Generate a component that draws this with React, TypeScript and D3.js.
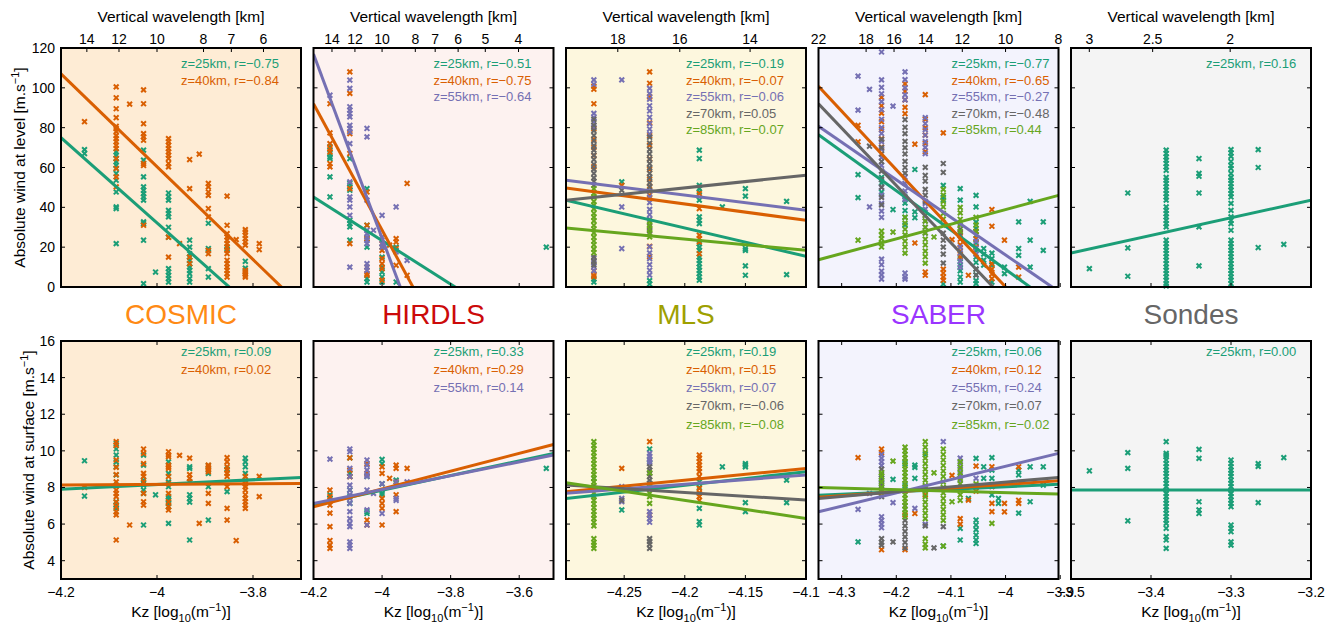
import React from 'react';
import * as d3 from 'd3';

type Group = [number, number[]]; // [column index, values]

// ---------------- shared data ----------------
const ALTITUDES = [25, 40, 55, 70, 85];
const SERIES_COLORS = ['#1b9e77', '#d95f02', '#7570b3', '#666666', '#66a61e'];
const INSTRUMENTS = ['COSMIC', 'HIRDLS', 'MLS', 'SABER', 'Sondes'];
const TITLE_COLORS = ['#ff8a14', '#cc0a0a', '#9ea000', '#9a35ff', '#666666'];
const PANEL_BG = ['#feecd5', '#fdf2f0', '#fdf7de', '#f3f3fd', '#f4f4f4'];

const KZ_DOMAINS: [number, number][] = [[-4.2, -3.7], [-4.2, -3.5], [-4.298, -4.1], [-4.3424, -3.9031], [-3.5, -3.2]];
const KZ_TICKS = [[-4.2, -4, -3.8], [-4.2, -4, -3.8, -3.6], [-4.25, -4.2, -4.15, -4.1], [-4.3, -4.2, -4.1, -4, -3.9], [-3.5, -3.4, -3.3, -3.2]];
const WAVELENGTH_TICKS = [[14, 12, 10, 8, 7, 6], [14, 12, 10, 8, 7, 6, 5, 4], [18, 16, 14], [22, 18, 16, 14, 12, 10, 8], [3, 2.5, 2]];
const LEVEL_TICKS = [0, 20, 40, 60, 80, 100, 120];
const SURFACE_TICKS = [4, 6, 8, 10, 12, 14, 16];

// ---------------- COSMIC ----------------
const cosmicKz = [-4.151, -4.085, -4.057, -4.028, -4.003, -3.976, -3.953, -3.932, -3.912, -3.893, -3.854, -3.835, -3.816, -3.787];
const cosmicLevel25: Group[] = [[0, [67, 69]], [1, [67.8, 66.2, 64.5, 62.8, 61.1, 59.5, 57, 53.6, 47.7, 40.2, 39.4, 21.8]], [3, [68.7, 63.7, 55.3, 50.3, 48.6, 46.9, 45.2, 43.6, 32.7, 31.8, 23.5, 1.7]], [4, [7.5]], [5, [47.2, 45.2, 43.6, 38.5, 36.8, 35.2, 30, 25, 9.2, 7.5, 5.9, 4.2, 2.5]], [7, [23.5, 20, 16.7, 15, 13.4, 11.7, 10, 8.4, 6.7, 4.2, 2.5]], [9, [32, 19.3, 18.4, 9.2, 5]], [10, [20, 19]], [12, [12.9, 9.5]]];
const cosmicLevel40: Group[] = [[0, [83]], [1, [100.5, 95, 89.5, 85, 80.7, 79.6, 78, 76, 74.5, 72.9, 71.2, 69.5, 64.5, 59.5, 55.3, 50.3]], [2, [91.8]], [3, [99, 92, 82, 77, 75.4, 73.7, 62, 61, 31]], [5, [74.5, 72.9, 71.2, 69.5, 67.8, 66.2, 64.5, 62, 60.3, 25, 15]], [6, [21.8]], [7, [64, 49.4, 15, 11.7]], [8, [66.7]], [9, [52, 50.3, 47.7, 46, 39.4, 35.2, 18.4, 16.7]], [10, [45.6, 31, 26.8, 25.1, 23.5, 21.8, 20.1, 18.4, 16.8, 13.4, 11.7, 10, 8.4, 6.7, 5]], [11, [23.8]], [12, [28.8, 27.6, 26, 24.3, 22.6, 21, 8.4, 7.5, 6.7, 5.9, 5]], [13, [21.8, 18.8]]];
const cosmicSurface25: Group[] = [[0, [9.46, 7.53]], [1, [10.4, 10.1, 9.77, 9.4, 9.13, 8.68, 8.13, 7.22, 7.04, 6.86]], [3, [9.77, 9.22, 8.4, 8.13, 7.86, 7.68, 5.95]], [4, [7.6]], [5, [9.4, 8.77, 8.3, 8.04, 7.5, 7.4, 7.3, 7.13, 6.95, 6.04]], [7, [9.13, 9.04, 8.3, 7.6, 7.4, 7.2, 5.13]], [9, [9.2, 8.77, 8.04, 6.22]], [10, [9.0, 7.77]], [12, [9.6, 9.4, 9.13, 8.77]]];
const cosmicSurface40: Group[] = [[0, [8.0]], [1, [10.5, 10.3, 9.5, 9.1, 8.7, 8.3, 7.86, 7.68, 7.5, 7.2, 6.95, 6.67, 6.5, 5.13]], [2, [5.95]], [3, [10.1, 9.86, 9.3, 8.77, 8.6, 8.3, 7.68, 7.22, 7.04]], [5, [9.95, 9.77, 9.68, 9.22, 9.13, 9.04, 8.6, 8.2, 7.68, 7.22, 6.95, 6.77]], [6, [9.75]], [7, [9.6, 8.7, 8.5, 8.3]], [8, [6.04]], [9, [9.22, 9.13, 9.04, 8.95, 8.86, 7.68, 7.13]], [10, [9.63, 9.4, 9.13, 8.95, 8.77, 8.6, 8.04, 6.86, 6.22]], [11, [5.1]], [12, [8.6, 8.4, 8.2, 8.04, 7.86, 7.6, 7.4, 7.22, 7.04, 6.86]], [13, [8.6, 7.5]]];
const cosmicLevelFit = [[75, -32], [107, -9.5]];
const cosmicSurfaceFit = [[7.9, 8.55], [8.13, 8.22]];
const cosmicLevelR = [-0.75, -0.84];
const cosmicSurfaceR = [0.09, 0.02];

// ---------------- HIRDLS ----------------
const hirdlsKz = [-4.152, -4.094, -4.044, -4.025, -4.0, -3.978, -3.959, -3.927, -3.521];
const hirdlsLevel25: Group[] = [[0, [70.4, 67, 65.3, 64.5, 55.3, 45.2]], [1, [64.5, 52, 50.3, 48.6, 33.5, 31.8, 30.2, 23.5]], [2, [49.4, 31, 24.3, 20, 4.2, 2.5]], [4, [20, 15, 10, 7.5, 5, 2.5]], [6, [20, 2.5]], [8, [20]]];
const hirdlsLevel40: Group[] = [[0, [92, 77.4, 72, 69.5, 67.8, 62, 60.3]], [1, [108, 97.2, 77, 67, 49.4, 21.8]], [2, [47.7, 31, 24.3, 10, 6.7, 5.9]], [4, [21.8, 18.4, 14.2, 11.7, 9.2, 3.4]], [5, [21]], [6, [24.3, 22.6, 19.3, 10.9]], [7, [52, 5.9]]];
const hirdlsLevel55: Group[] = [[0, [96.3]], [1, [103.9, 99.7, 90.5, 88.8, 87.1, 85.4, 81.2, 79.6, 77.9, 72, 52.8, 45.2, 43.6, 40.2, 36, 10]], [2, [79.6, 75.4, 43.6, 28.5, 26.8, 25.1, 23.5, 21.8, 11.7, 10, 8.4]], [3, [28.5]], [4, [36, 25.1, 21.8, 20]], [6, [40.2, 17.6]], [7, [13.4]]];
const hirdlsSurface25: Group[] = [[0, [7.6, 7.4]], [1, [9.62, 8.77, 8.6, 7.86, 7.5, 7.13]], [2, [8.6, 6.68, 6.58]], [4, [9.53, 9.3, 8.2, 7.68, 7.6]], [6, [8.4]], [8, [9.04]]];
const hirdlsSurface40: Group[] = [[0, [7.86, 7.5, 7.04, 6.6, 5.86, 5.1, 4.85, 4.67]], [1, [9.62, 8.95, 8.59]], [2, [9.3, 8.77, 6.22, 5.95]], [4, [9.13, 8.77, 7.4, 7.13, 6.86, 5.95]], [5, [8.5]], [6, [9.22, 9.04, 8.3, 7.6, 6.68]], [7, [9.04]]];
const hirdlsSurface55: Group[] = [[0, [9.55]], [1, [10.1, 9.95, 9.04, 8.6, 8.13, 7.86, 7.6, 7.4, 7.13, 6.68, 6.3, 6.04, 5.86, 5.03, 4.85, 4.67]], [2, [9.5, 9.22, 8.95, 8.68, 8.6, 7.86, 6.77, 5.95]], [3, [7.68]], [4, [8.2, 6.58]], [6, [8.3, 7.4, 7.3]], [7, [8.3]]];
const hirdlsLevelFit = [[45.2, -31.4], [92, -130], [117, -206.7]];
const hirdlsSurfaceFit = [[7.04, 9.86], [6.95, 10.35], [7.13, 9.77]];
const hirdlsLevelR = [-0.51, -0.75, -0.64];
const hirdlsSurfaceR = [0.33, 0.29, 0.14];

// ---------------- MLS ----------------
const mlsKz = [-4.275, -4.252, -4.229, -4.188, -4.169, -4.150, -4.116];
const mlsLevel25: Group[] = [[0, [2.5, 4]], [1, [52.8]], [2, [1.5, 3.2]], [3, [68.7, 64.5, 51, 49.4, 47.7, 43.6, 35.2, 33.5, 31.8, 21.8, 20, 18.4, 15, 13.4, 11.7, 10, 8.4, 6.7, 5, 3.4]], [4, [40.2]], [5, [49.4, 45.6, 19.3, 18.4, 10.6, 5.9]], [6, [43, 6.2]]];
const mlsLevel40: Group[] = [[0, [100.8, 99.3, 92, 79.5, 74.2, 70.1, 66, 60.4, 8.1, 6, 5.2]], [1, [51]], [2, [108, 102.3, 95.5, 82.4, 76, 71.2, 64.3, 59, 54.1, 50.5, 46.2, 20.4, 15.3]], [3, [46.9, 39.4, 26, 24.3, 22.6, 16.7]]];
const mlsLevel55: Group[] = [[0, [104, 101.8, 87.2, 85.1, 83, 80.4, 14.5, 12.1, 10.3, 8.2]], [1, [104, 40.2, 19.3]], [2, [99.7, 97.1, 94.3, 91, 88.4, 85.2, 82, 79.3, 76.8, 48.2, 45.1, 42.4, 39, 36.3, 34, 20.2, 17.1, 14.3, 11.2, 8.4, 6]]];
const mlsLevel70: Group[] = [[0, [84.2, 81.3, 78.5, 76.1, 73.4, 71, 68.7, 66.2, 64, 61.6, 59.2, 57, 54.8, 53, 51.1, 15.2, 13, 11.1]], [1, [48.6]], [2, [75.2, 72.3, 69.1, 66.8, 64.2, 61.9, 59.8, 57.1, 55, 52.3, 50.1, 30.4, 28.2]]];
const mlsLevel85: Group[] = [[0, [49.3, 47.1, 45.2, 43, 41.1, 39.2, 37, 35.1, 33.2, 31, 29.1, 27.2, 25, 23.1, 21.2, 19, 17.2]], [2, [33, 31.2, 29.1, 27, 25.2]]];
const mlsSurface25: Group[] = [[0, [7.5, 8.5]], [1, [6.77]], [2, [10.1, 9.5]], [3, [8.3, 8.0, 6.86, 6.13, 5.95]], [4, [9.13]], [5, [9.3, 9.22, 9.13, 7.17, 6.68]], [6, [8.4, 7.17]]];
const mlsSurface40: Group[] = [[1, [9.04]], [2, [10.5, 6.5]], [3, [9.77, 9.6, 9.4, 9.22, 9.04, 8.86, 8.6, 7.95, 7.7, 7.5, 7.3]]];
const mlsSurface55: Group[] = [[1, [8.04, 7.4, 7.22]], [2, [9.86, 9.7, 9.55, 9.4, 9.31, 6.68, 6.5, 6.3, 6.1]]];
const mlsSurface70: Group[] = [[1, [7.3]], [2, [9.13, 8.95, 8.77, 8.6, 8.4, 8.22, 5.2, 5.05, 4.9, 4.67]]];
const mlsSurface85: Group[] = [[0, [10.5, 10.3, 10.1, 9.9, 9.7, 9.5, 9.3, 9.1, 8.9, 8.7, 8.5, 8.3, 8.1, 7.9, 7.7, 7.5, 7.3, 7.1, 6.9, 6.7, 6.5, 6.3, 6.1, 5.9, 5.2, 5.0, 4.85, 4.67]], [2, [8.8, 8.04, 7.68, 7.5, 7.13]]];
const mlsLevelFit = [[43.6, 15.4], [49.7, 33.5], [53.6, 38.5], [43.6, 56.1], [29.6, 18.4]];
const mlsSurfaceFit = [[7.4, 8.86], [7.77, 9.04], [7.68, 8.68], [8.13, 7.31], [8.26, 6.31]];
const mlsLevelR = [-0.19, -0.07, -0.06, 0.05, -0.07];
const mlsSurfaceR = [0.19, 0.15, 0.07, -0.06, -0.08];

// ---------------- SABER ----------------
const saberKz = [-4.270, -4.249, -4.227, -4.206, -4.184, -4.166, -4.147, -4.131, -4.114, -4.098, -4.083, -4.068, -4.054, -4.040, -4.025, -4.013, -4.002, -3.976, -3.955, -3.931];
const saberLevel25: Group[] = [[0, [56.4, 44.9]], [2, [55, 52.3, 47.6]], [3, [38.9]], [4, [45.2, 42.1, 38.4, 35, 31.2]], [5, [59, 37.7, 34.8]], [8, [51, 45, 43.6, 1.5]], [10, [49.4, 43.6, 14.2, 11, 8.1, 5, 2.5]], [12, [46, 40.2, 32.6, 29.3, 26, 22.1, 18.2, 15, 12.3, 9, 6.1, 3.2, 1.7]], [13, [19.3, 16.5, 13.5, 11]], [14, [17, 14.2, 11, 2.5]], [16, [10, 6.7]], [17, [32.7, 19.3, 15.9]], [18, [43, 23.5, 10]], [19, [32.7, 18.4]]];
const saberLevel40: Group[] = [[0, [81.2, 72.9]], [2, [95.2, 91, 87.3, 83, 79.1, 74.4, 70.2]], [4, [102, 98.3, 94, 90.2, 87]], [5, [71.7, 22.1]], [6, [96.6, 84.2, 80, 76.3, 72.1, 68, 7.5, 5.9]], [8, [77.4, 9, 7, 5, 3.4]], [9, [23.8]], [10, [27.1, 24, 21.2, 18, 15.1]], [11, [5.9]], [12, [28, 24.2, 20]], [14, [38.9, 30.5, 11.7, 9, 6.5, 4.2]], [16, [23.5]], [17, [10, 5]]];
const saberLevel55: Group[] = [[0, [105.9, 88.8]], [1, [99.2, 40.2]], [2, [118, 104, 100.2, 97, 93.1, 89, 84.2, 80, 77.1, 73, 69.2, 65, 61.1, 50, 46.2, 42, 38.1, 35, 14, 11.2, 8, 6.1, 4]], [3, [90.8]], [4, [108, 104.1, 100, 96.5, 94, 55.1, 52, 48.2, 44, 7, 5, 4]], [6, [85, 82.1, 79, 76.2, 73, 70.1, 67, 42, 39.1, 36, 33.2, 30, 27]], [10, [20, 17.1, 13, 10]], [12, [23, 19.5, 16.5]]];
const saberLevel70: Group[] = [[1, [70.7]], [2, [74.1, 70, 66.8, 63, 58.2, 54, 50.1, 45, 41.2]], [4, [84, 80.2, 77, 73.1, 70, 66.8, 63.1, 60, 57.2]], [6, [60.1, 56, 53.2, 49, 46.1, 43]], [8, [62, 57.5, 27, 23.5, 20, 16.5, 12]], [10, [32, 29.1, 26]], [12, [9, 6]]];
const saberLevel85: Group[] = [[0, [23.5]], [2, [28.1, 26, 24.2, 22, 20.1]], [3, [27.6]], [4, [35, 32.1, 29, 26.2, 23, 20.1, 17]], [6, [36, 33.1, 30, 27.2, 24, 21.1, 18, 15.2, 12]], [7, [25.1]], [8, [49, 46.1, 43, 40.2, 37, 34.1, 31]], [10, [40, 37.2, 34, 31.1, 28]], [12, [35, 31.2, 28]]];
const saberSurface25: Group[] = [[0, [5.03]], [2, [8.5, 8.2]], [3, [8.44]], [4, [9.3, 8.1]], [5, [9.22, 9.1, 8.5]], [6, [9.8, 8.0]], [8, [4.8]], [10, [5.77, 5.13]], [11, [7.4]], [12, [9.59, 6.22, 5.95, 5.7, 5.4, 5.13, 4.94]], [13, [9.13, 8.5]], [14, [9.63, 8.95, 8.5, 7.6]], [15, [7.4, 7.13]], [17, [8.95, 8.68, 6.6]], [18, [9.13, 7.22]], [19, [9.13, 8.13]]];
const saberSurface40: Group[] = [[0, [9.63]], [2, [10.1, 9.9, 4.6]], [4, [4.6, 6.5]], [5, [6.58]], [6, [7.6]], [9, [8.66]], [10, [6.3, 6.0]], [11, [7.31]], [12, [9.17, 7.8]], [14, [9.13, 8.04, 7.13, 6.68]], [16, [7.13, 6.67]], [17, [9.13, 7.3, 7.13]]];
const saberSurface55: Group[] = [[0, [6.8]], [1, [7.68]], [2, [9.8, 9.6, 9.4, 9.2, 6.4, 6.2, 6.0, 5.8]], [3, [7.17]], [4, [7.0]], [5, [6.86]], [6, [6.0]], [8, [10.5]], [10, [9.6, 9.3, 9.0, 8.7, 8.4]], [12, [8.5]]];
const saberSurface70: Group[] = [[2, [9.0, 8.7, 8.4, 8.1, 7.8, 7.5, 5.2, 5.0, 4.85]], [3, [5.03]], [4, [6.2, 5.9, 5.6, 5.3, 5.0, 4.7]], [6, [5.9]], [7, [4.7]], [8, [5.86]]];
const saberSurface85: Group[] = [[2, [8.8, 8.6, 8.3, 8.0, 7.7]], [3, [9.44]], [4, [10.2, 10.0, 9.8, 9.6, 9.4, 9.2, 9.0, 8.8, 8.6, 8.4, 8.2, 8.0, 7.8, 7.6, 7.4, 7.2, 7.0, 6.8, 6.6, 6.4]], [6, [10.5, 10.2, 9.9, 9.6, 9.3, 9.0, 8.7, 8.4, 8.1, 7.8, 7.5, 7.2, 6.9, 6.6, 6.3, 5.2, 4.9, 4.7]], [7, [8.8]], [8, [10.1, 9.8, 9.5, 9.2, 8.9, 8.6, 8.3, 8.0, 7.7, 7.4, 7.1, 6.8, 6.5, 6.2, 4.8]], [9, [7.22]], [10, [9.4, 9.1, 8.8, 8.5, 8.2, 7.9, 7.6, 7.3]], [12, [8.2]], [14, [6.04]]];
const saberLevelFit = [[76.5, -10.3], [100.8, -28.5], [80.7, -2.2], [92, -34.5], [13.7, 46]];
const saberSurfaceFit = [[7.58, 8.17], [7.46, 8.37], [6.67, 9.86], [7.4, 8.55], [8.0, 7.64]];
const saberLevelR = [-0.77, -0.65, -0.27, -0.48, 0.44];
const saberSurfaceR = [0.06, 0.12, 0.24, 0.07, -0.02];

// ---------------- Sondes ----------------
const sondesKz = [-3.477, -3.429, -3.381, -3.340, -3.300, -3.266, -3.234];
const sondesLevel25: Group[] = [[0, [9.2]], [1, [47.2, 19.6, 5.4]], [2, [68.7, 67, 65.3, 63.7, 62, 60.3, 58.6, 55, 53.6, 52, 50.3, 48.6, 46.9, 45.2, 43.6, 40.2, 38.5, 36.8, 35.2, 33.5, 31.8, 30.2, 23.5, 21.8, 20.1, 18.4, 16.8, 15.1, 13.4, 11.7, 10, 8.4, 6.7, 5, 3.4, 1.7, 0.5]], [3, [64.5, 57, 55.6, 47.2, 30.2, 10.6]], [4, [69, 67.3, 65.6, 63, 61, 59.5, 57, 55, 53.6, 52, 50.3, 48.6, 46.9, 45.2, 42, 38.5, 35.2, 33.5, 31.8, 28.5, 23.5, 21.8, 20.1, 18.4, 16.8, 15.1, 13.4, 11.7, 10, 8.4, 6.7, 5, 3.4, 1.7]], [5, [69, 60, 19.8]], [6, [21.4]]];
const sondesSurface25: Group[] = [[0, [8.91]], [1, [9.9, 9.04, 6.18]], [2, [10.5, 9.86, 9.77, 9.68, 9.5, 9.3, 9.13, 8.95, 8.77, 8.6, 8.4, 8.22, 8.04, 7.86, 7.68, 7.5, 7.31, 7.13, 6.95, 6.77, 6.58, 6.4, 6.22, 6.04, 5.77, 5.31, 5.13, 4.67]], [3, [10.08, 9.59, 7.22, 6.77, 6.58]], [4, [9.5, 9.31, 9.13, 8.95, 8.77, 8.6, 8.4, 8.22, 8.04, 7.86, 7.68, 7.5, 7.31, 7.13, 6.95, 5.95, 5.77, 5.58, 5.03, 4.85]], [5, [9.3, 9.15, 7.17]], [6, [9.63]]];
const sondesLevelFit = [[17.1, 43.6]];
const sondesSurfaceFit = [[7.86, 7.86]];
const sondesLevelR = [0.16];
const sondesSurfaceR = [0.0];

const PANEL_DATA = [
  { kz: cosmicKz, level: [cosmicLevel25, cosmicLevel40], surface: [cosmicSurface25, cosmicSurface40], levelFit: cosmicLevelFit, surfaceFit: cosmicSurfaceFit, levelR: cosmicLevelR, surfaceR: cosmicSurfaceR },
  { kz: hirdlsKz, level: [hirdlsLevel25, hirdlsLevel40, hirdlsLevel55], surface: [hirdlsSurface25, hirdlsSurface40, hirdlsSurface55], levelFit: hirdlsLevelFit, surfaceFit: hirdlsSurfaceFit, levelR: hirdlsLevelR, surfaceR: hirdlsSurfaceR },
  { kz: mlsKz, level: [mlsLevel25, mlsLevel40, mlsLevel55, mlsLevel70, mlsLevel85], surface: [mlsSurface25, mlsSurface40, mlsSurface55, mlsSurface70, mlsSurface85], levelFit: mlsLevelFit, surfaceFit: mlsSurfaceFit, levelR: mlsLevelR, surfaceR: mlsSurfaceR },
  { kz: saberKz, level: [saberLevel25, saberLevel40, saberLevel55, saberLevel70, saberLevel85], surface: [saberSurface25, saberSurface40, saberSurface55, saberSurface70, saberSurface85], levelFit: saberLevelFit, surfaceFit: saberSurfaceFit, levelR: saberLevelR, surfaceR: saberSurfaceR },
  { kz: sondesKz, level: [sondesLevel25], surface: [sondesSurface25], levelFit: sondesLevelFit, surfaceFit: sondesSurfaceFit, levelR: sondesLevelR, surfaceR: sondesSurfaceR },
];

// ---------------- layout ----------------
const FONT = "'Liberation Sans', Arial, Helvetica, sans-serif";
const PANEL_LEFT0 = 61;
const PANEL_STEP = 252.5;
const PANEL_W = 240;
const ROWS = {
  level: { top: 48, bottom: 287, domain: [0, 120], ticks: LEVEL_TICKS, legendY: 68, legendDy: 16.5 },
  surface: { top: 341, bottom: 579, domain: [3, 16], ticks: SURFACE_TICKS, legendY: 355.5, legendDy: 18.3 },
};
const LEGEND_OFFSET = [120, 120, 120, 133, 135];
const TICK = 4;

const fmt = (v: number) => (v < 0 ? '\u2212' : '') + String(Math.abs(v));
const fmtR = (r: number) => (r < 0 ? '\u2212' : '') + Math.abs(r).toFixed(2);
const kzOfWavelength = (km: number) => Math.log10(1 / (km * 1000));
const MARKER = 'M-2.4,-2.4L2.4,2.4M-2.4,2.4L2.4,-2.4';

function Panel({ i, row }: { i: number; row: 'level' | 'surface' }) {
  const d = PANEL_DATA[i];
  const R = ROWS[row];
  const left = PANEL_LEFT0 + i * PANEL_STEP;
  const right = left + PANEL_W;
  const x = d3.scaleLinear().domain(KZ_DOMAINS[i]).range([left, right]);
  const y = d3.scaleLinear().domain(R.domain).range([R.bottom, R.top]);
  const series = row === 'level' ? d.level : d.surface;
  const fits = row === 'level' ? d.levelFit : d.surfaceFit;
  const rs = row === 'level' ? d.levelR : d.surfaceR;
  const clipId = `clip-${row}-${i}`;
  const [k0, k1] = KZ_DOMAINS[i];
  return (
    <g>
      <defs>
        <clipPath id={clipId}>
          <rect x={left} y={R.top} width={PANEL_W} height={R.bottom - R.top} />
        </clipPath>
      </defs>
      <rect x={left} y={R.top} width={PANEL_W} height={R.bottom - R.top} fill={PANEL_BG[i]} />
      {series.map((groups, s) => (
        <g key={s} stroke={SERIES_COLORS[s]} strokeWidth={2} fill="none">
          {groups.flatMap(([c, vals], gi) =>
            vals.map((v, vi) => (
              <path key={`${gi}-${vi}`} d={MARKER} transform={`translate(${x(d.kz[c])},${y(v)})`} />
            ))
          )}
        </g>
      ))}
      <g clipPath={`url(#${clipId})`}>
        {fits.map((f, s) => (
          <line key={s} x1={x(k0)} y1={y(f[0])} x2={x(k1)} y2={y(f[1])} stroke={SERIES_COLORS[s]} strokeWidth={3} />
        ))}
      </g>
      <g stroke="#000" strokeWidth={1}>
        {R.ticks.map((t) => (
          <g key={t}>
            <line x1={left} x2={left + TICK} y1={y(t)} y2={y(t)} />
            <line x1={right} x2={right - TICK} y1={y(t)} y2={y(t)} />
          </g>
        ))}
        {KZ_TICKS[i].map((t) => (
          <g key={t}>
            <line x1={x(t)} x2={x(t)} y1={R.bottom} y2={R.bottom - TICK} />
            {row === 'surface' && <line x1={x(t)} x2={x(t)} y1={R.top} y2={R.top + TICK} />}
          </g>
        ))}
        {row === 'level' &&
          WAVELENGTH_TICKS[i].map((w) => (
            <line key={w} x1={x(kzOfWavelength(w))} x2={x(kzOfWavelength(w))} y1={R.top} y2={R.top + TICK} />
          ))}
      </g>
      <rect x={left} y={R.top} width={PANEL_W} height={R.bottom - R.top} fill="none" stroke="#000" strokeWidth={2} />
      {i === 0 &&
        R.ticks.map((t) => (
          <text key={t} x={left - 6} y={y(t) + 5} textAnchor="end" fontSize={14} fill="#000">
            {fmt(t)}
          </text>
        ))}
      {row === 'surface' &&
        KZ_TICKS[i].map((t) => (
          <text key={t} x={x(t)} y={597} textAnchor="middle" fontSize={14} fill="#000">
            {fmt(t)}
          </text>
        ))}
      {row === 'level' &&
        WAVELENGTH_TICKS[i].map((w) => (
          <text key={w} x={x(kzOfWavelength(w))} y={44} textAnchor="middle" fontSize={14} fill="#000">
            {String(w)}
          </text>
        ))}
      {row === 'level' && (
        <text x={(left + right) / 2} y={22} textAnchor="middle" fontSize={15.5} fill="#000">
          Vertical wavelength [km]
        </text>
      )}
      {row === 'surface' && (
        <text x={(left + right) / 2} y={617} textAnchor="middle" fontSize={15.5} fill="#000">
          Kz [log<tspan dy={5} fontSize={11}>10</tspan>
          <tspan dy={-5}>(m</tspan>
          <tspan dy={-6} fontSize={11}>{'\u22121'}</tspan>
          <tspan dy={6}>)]</tspan>
        </text>
      )}
      {rs.map((r, s) => (
        <text key={s} x={left + LEGEND_OFFSET[i]} y={R.legendY + s * R.legendDy} fontSize={13} fill={SERIES_COLORS[s]}>
          {`z=${ALTITUDES[s]}km, r=${fmtR(r)}`}
        </text>
      ))}
    </g>
  );
}

export default function App() {
  return (
    <svg width={1337} height={629} style={{ position: 'absolute', left: 0, top: 0, background: '#fff' }} fontFamily={FONT}>
      <rect x={0} y={0} width={1337} height={629} fill="#fff" />
      {INSTRUMENTS.map((name, i) => (
        <g key={name}>
          <Panel i={i} row="level" />
          <Panel i={i} row="surface" />
          <text x={PANEL_LEFT0 + i * PANEL_STEP + PANEL_W / 2} y={324} textAnchor="middle" fontSize={28} fill={TITLE_COLORS[i]}>
            {name}
          </text>
        </g>
      ))}
      <text transform={`translate(25,167.5) rotate(-90)`} textAnchor="middle" fontSize={15.5} fill="#000">
        Absolute wind at level [m.s<tspan dy={-6} fontSize={11}>{'\u22121'}</tspan>
        <tspan dy={6}>]</tspan>
      </text>
      <text transform={`translate(33.5,460) rotate(-90)`} textAnchor="middle" fontSize={15.5} fill="#000">
        Absolute wind at surface [m.s<tspan dy={-6} fontSize={11}>{'\u22121'}</tspan>
        <tspan dy={6}>]</tspan>
      </text>
    </svg>
  );
}
